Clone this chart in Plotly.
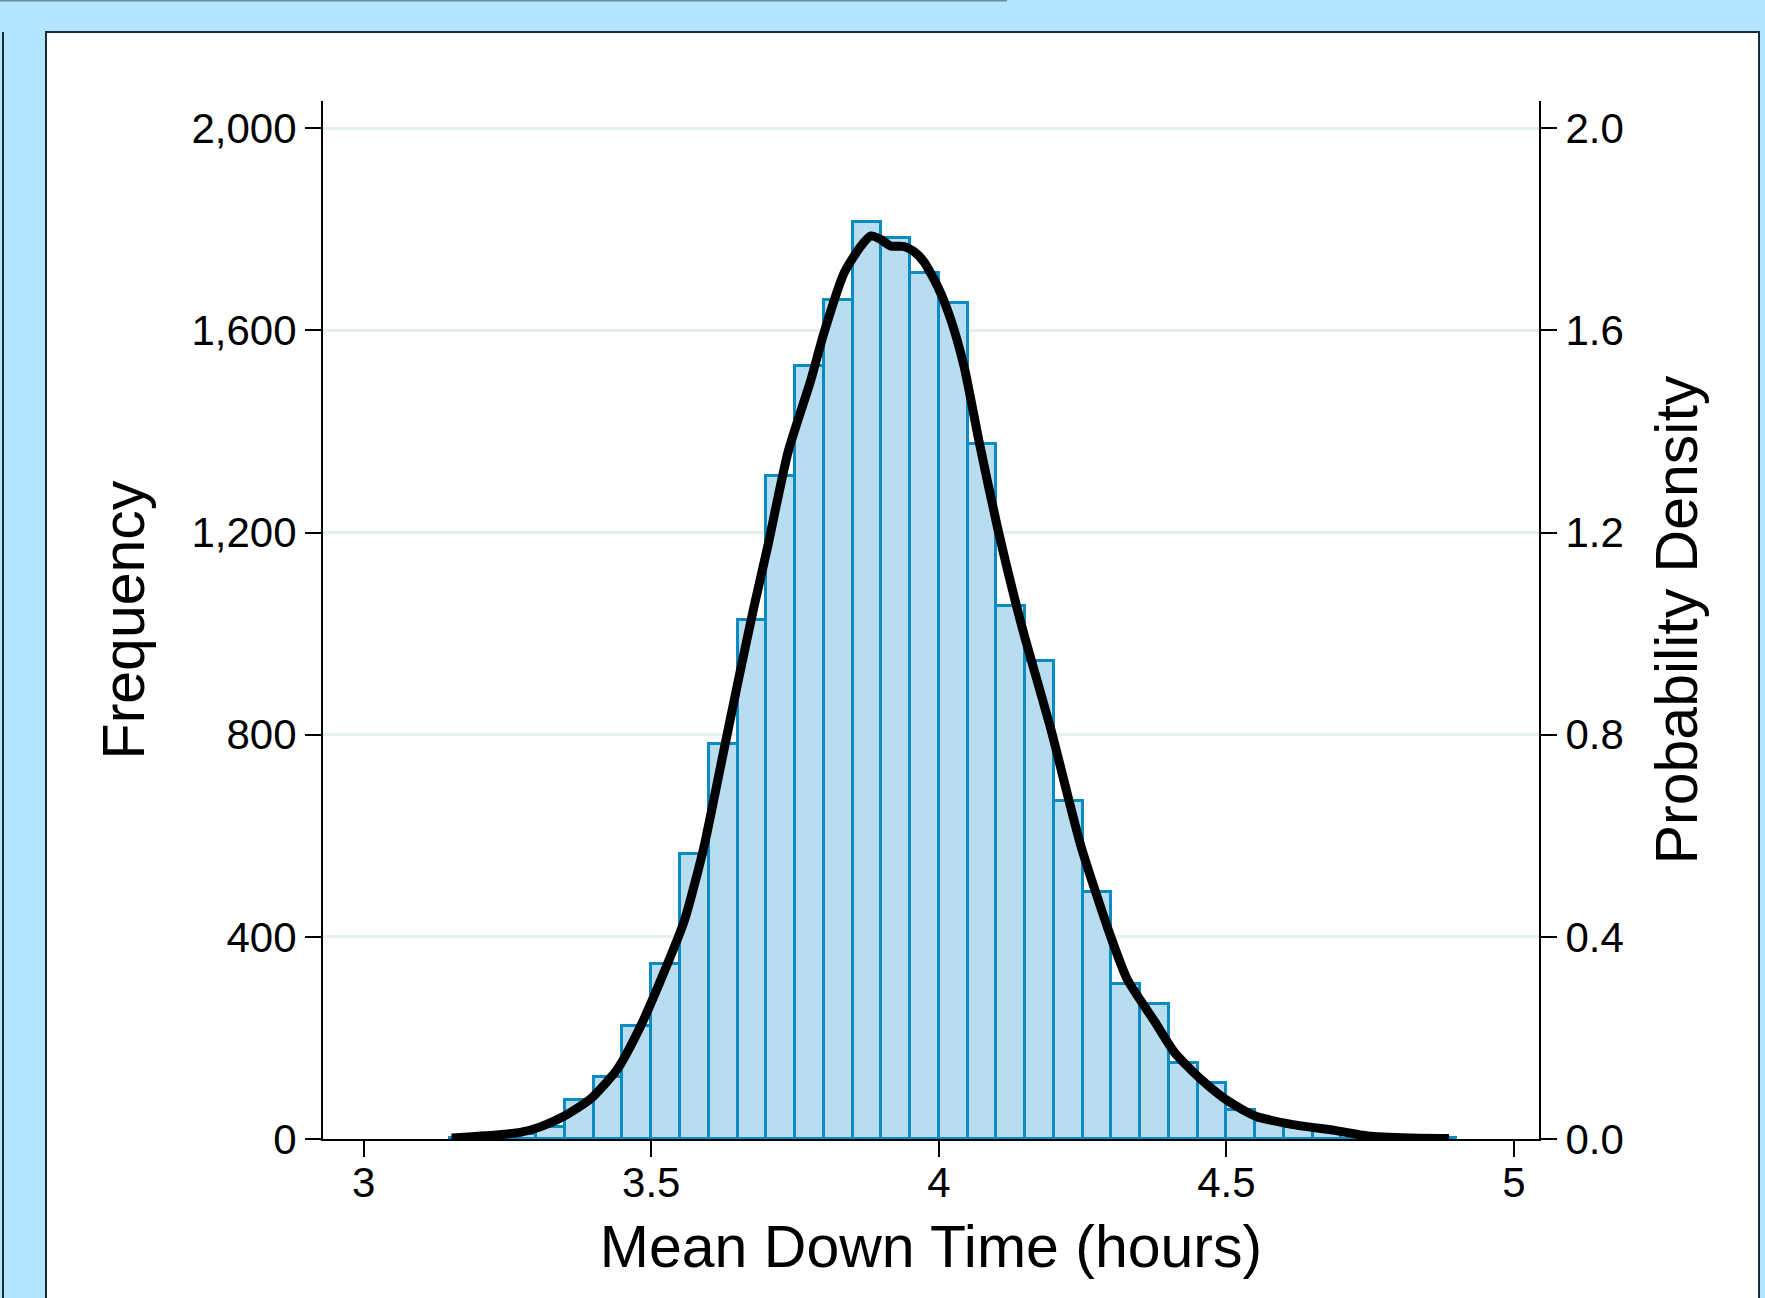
import plotly.graph_objects as go

# ---- data ----
bin_width = 0.05
bin_starts = [3.15, 3.20, 3.25, 3.30, 3.35, 3.40, 3.45, 3.50, 3.55, 3.60, 3.65,
              3.70, 3.75, 3.80, 3.85, 3.90, 3.95, 4.00, 4.05, 4.10, 4.15, 4.20,
              4.25, 4.30, 4.35, 4.40, 4.45, 4.50, 4.55, 4.60, 4.65, 4.70, 4.75,
              4.80, 4.85]
frequency = [2, 3, 10, 24, 78, 122, 223, 346, 564, 782, 1027,
             1312, 1529, 1661, 1814, 1782, 1714, 1655, 1376, 1055, 945, 668,
             489, 307, 268, 150, 110, 57, 35, 23, 18, 8, 4,
             2, 1]

density_x = [3.153, 3.23, 3.272, 3.307, 3.348, 3.394, 3.441, 3.481, 3.516, 3.557,
             3.591, 3.621, 3.65, 3.678, 3.702, 3.738, 3.777, 3.800, 3.835, 3.864,
             3.882, 3.899, 3.916, 3.940, 3.957, 3.974, 3.998, 4.021, 4.044, 4.07,
             4.102, 4.143, 4.195, 4.247, 4.299, 4.328, 4.375, 4.41, 4.456, 4.503,
             4.549, 4.613, 4.688, 4.746, 4.82, 4.887]
density_y = [0.002, 0.008, 0.013, 0.024, 0.045, 0.079, 0.138, 0.222, 0.313, 0.43,
             0.575, 0.74, 0.9, 1.05, 1.17, 1.36, 1.50, 1.594, 1.713, 1.766,
             1.787, 1.780, 1.767, 1.766, 1.756, 1.736, 1.687, 1.621, 1.528, 1.38,
             1.21, 1.02, 0.81, 0.58, 0.40, 0.315, 0.233, 0.171, 0.118, 0.075,
             0.046, 0.029, 0.017, 0.006, 0.002, 0.001]

freq_ticks = [0, 400, 800, 1200, 1600, 2000]
dens_ticks = [0.0, 0.4, 0.8, 1.2, 1.6, 2.0]
x_ticks = [3, 3.5, 4, 4.5, 5]
x_tick_labels = ["3", "3.5", "4", "4.5", "5"]

# ---- layout geometry (pixels) ----
W, H = 1765, 1298
L, R, T, B = 323, 226, 101, 159
PW = W - L - R
PH = H - T - B


def px_x(px):
    return (px - L) / PW


def px_y(py):
    return (H - B - py) / PH


FONT = "Liberation Sans, Arial, Helvetica, sans-serif"
BG_BLUE = "#b3e6fe"
TICK_SIZE = 42
TITLE_SIZE = 59

bar_centers = [s + bin_width / 2 for s in bin_starts]

fig = go.Figure()
fig.add_trace(go.Bar(
    x=bar_centers, y=frequency, width=bin_width,
    marker=dict(color="#b8ddf1", line=dict(color="#0a8cc2", width=3)),
    yaxis="y", showlegend=False,
))
fig.add_trace(go.Scatter(
    x=density_x, y=density_y, mode="lines",
    line=dict(color="#000000", width=9, shape="spline", smoothing=0.6),
    yaxis="y2", showlegend=False,
))

shapes = [
    # white panel
    dict(type="rect", xref="paper", yref="paper", layer="below",
         x0=px_x(46), x1=px_x(1759), y0=px_y(1320), y1=px_y(32),
         fillcolor="white", line=dict(color="#1c2b3a", width=2)),
    # left neighbouring panel edge
    dict(type="line", xref="paper", yref="paper", layer="below",
         x0=px_x(3), x1=px_x(3), y0=px_y(1320), y1=px_y(32),
         line=dict(color="#1c2b3a", width=2)),
    # top gray line
    dict(type="line", xref="paper", yref="paper", layer="below",
         x0=px_x(0), x1=px_x(1007), y0=px_y(0.5), y1=px_y(0.5),
         line=dict(color="#6d8aa0", width=2)),
]

axis_common = dict(
    showline=True, linecolor="black", linewidth=2,
    ticks="outside", ticklen=16, tickwidth=2, tickcolor="black",
    tickfont=dict(family=FONT, size=TICK_SIZE, color="black"),
    zeroline=False,
)

fig.update_layout(
    width=W, height=H,
    margin=dict(l=L, r=R, t=T, b=B, pad=0),
    paper_bgcolor=BG_BLUE,
    plot_bgcolor="rgba(0,0,0,0)",
    bargap=0,
    shapes=shapes,
    font=dict(family=FONT, color="black"),
    xaxis=dict(
        range=[2.9293, 5.0435],
        tickvals=x_ticks, ticktext=x_tick_labels,
        showgrid=False,
        ticklabelstandoff=-10,
        title=dict(text="Mean Down Time (hours)",
                   font=dict(family=FONT, size=TITLE_SIZE, color="black"), standoff=20),
        **axis_common,
    ),
    yaxis=dict(
        range=[0, 2054],
        tickvals=freq_ticks, tickformat=",d",
        showgrid=True, gridcolor="#e4efef", gridwidth=3,
        title=dict(text="Frequency",
                   font=dict(family=FONT, size=TITLE_SIZE, color="black"), standoff=28),
        **axis_common,
    ),
    yaxis2=dict(
        range=[0, 2.054],
        tickvals=dens_ticks, tickformat=".1f",
        overlaying="y", side="right", showgrid=False,
        title=dict(text="Probability Density",
                   font=dict(family=FONT, size=TITLE_SIZE, color="black"), standoff=33),
        **axis_common,
    ),
)

fig.write_html("out.html", config={"displayModeBar": False},
               post_script="document.body.style.margin='0';")
